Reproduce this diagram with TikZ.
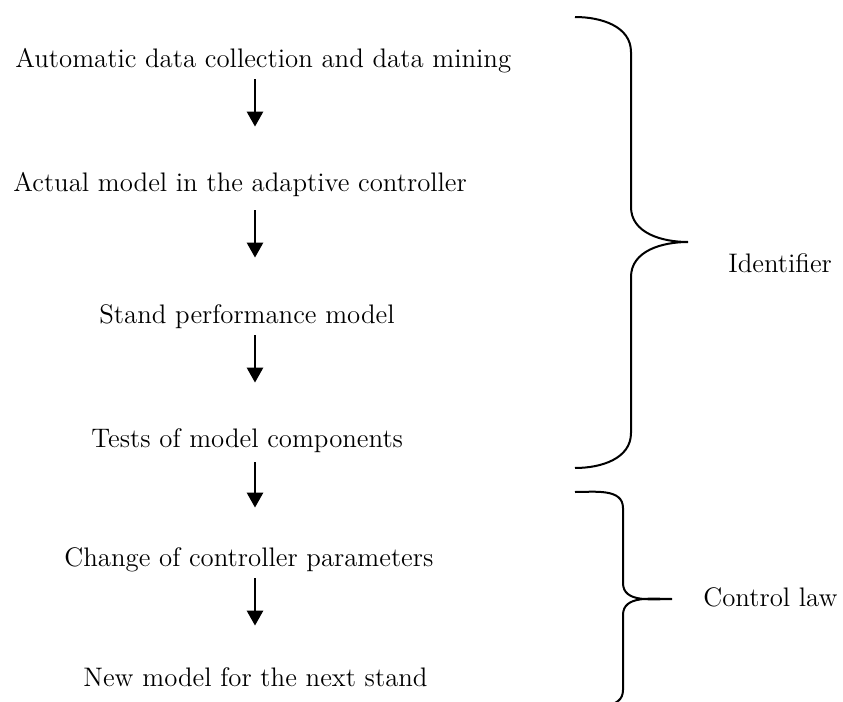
\documentclass[tikz,border=0pt]{standalone}
\usepackage{tikz}
\usetikzlibrary{arrows.meta}

\begin{document}
\begin{tikzpicture}[x=0.5pt, y=-0.5pt,
    step text/.style={anchor=base west, inner sep=0pt, text height=9pt, text depth=2.5pt, font=\fontsize{13.4}{16}\selectfont},
    flow/.style={-{Triangle[width=8pt, length=7.5pt]}, line width=1.4pt},
    brace/.style={line width=1pt}]
    \useasboundingbox (0,0) rectangle (843,702);

    % === STEPS ===
    \node[step text] (collect) at (15,67) {Automatic data collection and data mining};
    \node[step text] (actual) at (13,191) {Actual model in the adaptive controller};
    \node[step text] (stand) at (99,323) {Stand performance model};
    \node[step text] (tests) at (91,447) {Tests of model components};
    \node[step text] (change) at (64,566) {Change of controller parameters};
    \node[step text] (newmodel) at (83,686) {New model for the next stand};

    % === ARROWS ===
    \coordinate (ax) at (255,0);
    \draw[flow, shorten <=3.5pt, shorten >=23pt] (collect.south -| ax) -- (actual.north -| ax);
    \draw[flow, shorten <=7pt, shorten >=23.5pt] (actual.south -| ax) -- (stand.north -| ax);
    \draw[flow, shorten <=3.5pt, shorten >=23pt] (stand.south -| ax) -- (tests.north -| ax);
    \draw[flow, shorten <=5pt, shorten >=20pt] (tests.south -| ax) -- (change.north -| ax);
    \draw[flow, shorten <=3.5pt, shorten >=21pt] (change.south -| ax) -- (newmodel.north -| ax);

    % === BRACE 1: Identifier ===
    \draw[brace] (575,17) to[out=0, in=90] (631,52) -- (631,207)
        to[out=-90, in=180] (688,242) coordinate (idtip)
        to[out=180, in=90] (631,277) -- (631,433) to[out=-90, in=0] (575,468);
    \node[step text] (ident) at (728,272) {Identifier};

    % === BRACE 2: Control law ===
    \draw[brace] (575,492) to[out=0, in=90] (623,508) -- (623,583)
        to[out=-90, in=180] (672,599) coordinate (cltip)
        to[out=180, in=90] (623,615) -- (623,690) to[out=-90, in=0] (575,706);
    \node[step text] (control) at (703,606) {Control law};
\end{tikzpicture}
\end{document}
